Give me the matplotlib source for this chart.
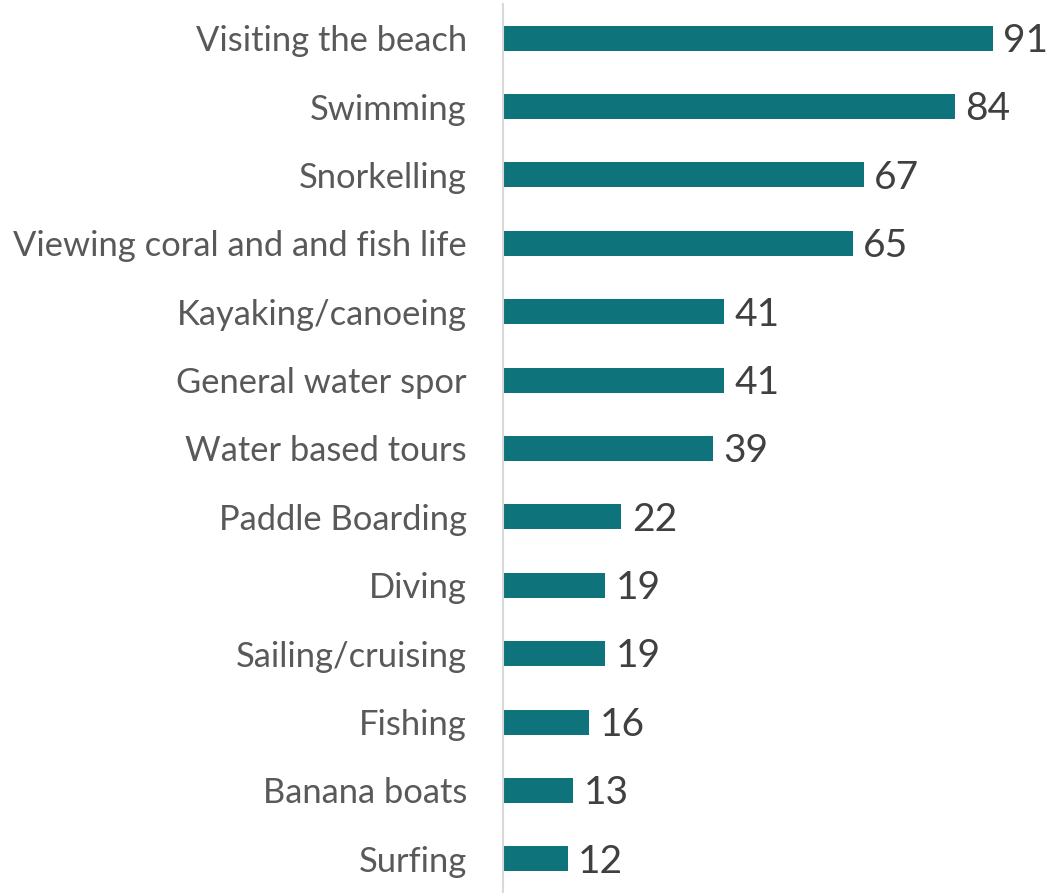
import matplotlib
matplotlib.use("Agg")
import matplotlib.pyplot as plt

# water activity participation (%)
activities = [
    "Visiting the beach", "Swimming", "Snorkelling",
    "Viewing coral and and fish life", "Kayaking/canoeing",
    "General water spor", "Water based tours", "Paddle Boarding",
    "Diving", "Sailing/cruising", "Fishing", "Banana boats", "Surfing",
]
shares = [91, 84, 67, 65, 41, 41, 39, 22, 19, 19, 16, 13, 12]

BAR_COLOR = "#0E737A"
plt.rcParams["font.family"] = ["Lato", "DejaVu Sans"]

W, H = 1051, 893
fig = plt.figure(figsize=(W / 100, H / 100), dpi=100)
ax = fig.add_axes([503 / W, 0.0, 1 - 503 / W, 889 / H])

ypos = list(range(len(activities)))
ax.barh(ypos, shares, height=0.365, color=BAR_COLOR)

for y, v in zip(ypos, shares):
    ax.annotate(str(v), (v, y), xytext=(7.5, -2), textcoords="offset points",
                ha="left", va="center", fontsize=28, color="#404040")

ax.set_xlim(0, 101.8)
ax.set_ylim(len(activities) - 0.5, -0.5)
ax.set_yticks(ypos)
ax.set_yticklabels(activities, fontsize=24.8, color="#595959")
ax.tick_params(axis="y", length=0, pad=26)
ax.set_xticks([])

for s in ["top", "right", "bottom"]:
    ax.spines[s].set_visible(False)
ax.spines["left"].set_color("#D9D9D9")
ax.spines["left"].set_linewidth(1.5)

fig.savefig("out.png", dpi=100)
